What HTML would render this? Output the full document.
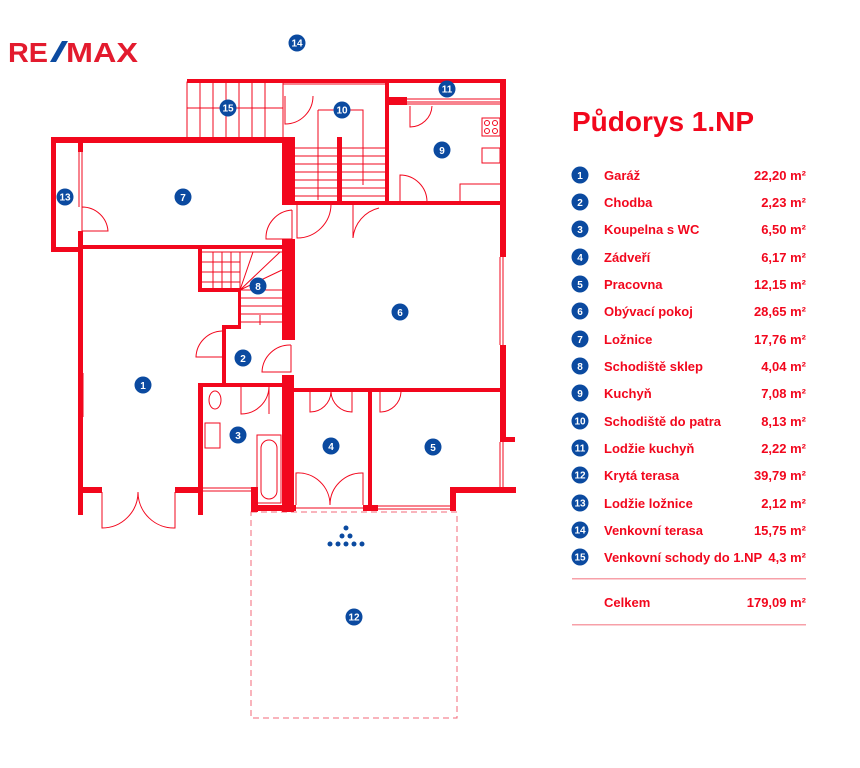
<!DOCTYPE html>
<html><head><meta charset="utf-8"><style>
html,body{margin:0;padding:0;background:#fff;}
svg{display:block;font-family:"Liberation Sans",sans-serif;}
.w{fill:#f2071d;}
.t{stroke:#f2071d;stroke-width:1;fill:none;}
.n circle{fill:#0b4aa0;}
.n text{fill:#fff;font-size:10px;font-weight:bold;text-anchor:middle;}
.lg text{fill:#f2071d;font-size:13px;font-weight:bold;}
.lg text.v{text-anchor:end;}
</style></head><body>
<svg width="860" height="768" viewBox="0 0 860 768" xmlns="http://www.w3.org/2000/svg">
<!-- logo -->
<text x="8" y="62" font-size="28" font-weight="bold" fill="#e31b2e" textLength="40" lengthAdjust="spacingAndGlyphs">RE</text>
<polygon points="50,62 56,62 68,41 62,41" fill="#0b4aa0"/>
<text x="66" y="62" font-size="28" font-weight="bold" fill="#e31b2e" textLength="72" lengthAdjust="spacingAndGlyphs">MAX</text>

<!-- thin drawing -->
<g class="t">
 <rect x="187" y="82" width="96" height="56"/>
 <line x1="187" y1="108" x2="283" y2="108"/>
 <path d="M200 82V138M213 82V138M226 82V138M239 82V138M252 82V138M265 82V138"/>
 <line x1="240" y1="108" x2="256" y2="108"/>
 <rect x="283" y="84" width="105" height="120"/>
 <path d="M285 96V124 A28 28 0 0 0 313 96"/>
 <path d="M318 110H363V185"/>
 <line x1="318" y1="110" x2="318" y2="200"/>
 <path d="M295 148H339M295 156H339M295 164H339M295 172H339M295 180H339M295 188H339M295 196H339"/>
 <path d="M342 148H386M342 156H386M342 164H386M342 172H386M342 180H386M342 188H386M342 196H386"/>
 <path d="M297 204V238 A34 34 0 0 0 331 204 M353 204V238 A34 34 0 0 1 379 208"/>
 <path d="M407 99H503M407 102H503M407 104H503"/>
 <path d="M410 106V127 A22 22 0 0 0 432 106"/>
 <rect x="482" y="118" width="18" height="18"/>
 <circle cx="487" cy="123" r="2.5"/><circle cx="495" cy="123" r="2.5"/><circle cx="487" cy="131" r="2.5"/><circle cx="495" cy="131" r="2.5"/>
 <rect x="482" y="148" width="18" height="15"/>
 <path d="M460 202V184H500"/>
 <path d="M400 202V175 A27 27 0 0 1 427 202"/>
 <path d="M79 152V207M82 152V207"/>
 <path d="M82 207V231H108 A26 26 0 0 0 82 207"/>
 <path d="M292 210V239 M292 210 A28 28 0 0 0 266 239 H292"/>
 <path d="M500 257V345M503 257V345"/>
 <path d="M500 442V487M503 442V487"/>
 <path d="M202 252H282M202 262H240M202 272H240M202 282H240"/>
 <path d="M213 252V290M222 252V290M231 252V290M240 252V290"/>
 <path d="M240 290 L253 252 M240 290 L280 252 M240 290 L282 270 M240 290 L282 290"/>
 <path d="M241 298H282M241 306H282M241 314H282M241 322H282"/>
 <line x1="260" y1="315" x2="260" y2="325"/>
 <path d="M222 357H196 A27 27 0 0 1 222 331"/>
 <path d="M291 345V372H262 A28 28 0 0 1 291 345"/>
 <path d="M80 373V417M83 373V417"/>
 <ellipse cx="215" cy="400" rx="6" ry="9"/>
 <rect x="205" y="423" width="15" height="25"/>
 <path d="M241 387V414 A28 28 0 0 0 269 387 M269 387V414"/>
 <rect x="257" y="435" width="24" height="68"/>
 <rect x="261" y="440" width="16" height="59" rx="8"/>
 <path d="M203 488H251M203 491H251"/>
 <path d="M102 492V528 A36 36 0 0 0 138 492 M175 492V528 A36 36 0 0 1 138 492"/>
 <path d="M310 392V412 A21 21 0 0 0 331 392 M352 392V412 A21 21 0 0 1 331 392"/>
 <path d="M296 505V473 A32 32 0 0 1 330 505 M363 505V473 A32 32 0 0 0 330 505"/>
 <path d="M296 508H363"/>
 <path d="M380 392V412 A21 21 0 0 0 401 392"/>
 <path d="M378 506H450M378 509H450"/>
 <rect x="251" y="512" width="206" height="206" stroke-dasharray="6,4" stroke="#f36a78"/>
</g>

<g class="w">
 <rect x="187" y="79" width="318" height="4"/>
 <rect x="500" y="79" width="6" height="178"/>
 <rect x="385" y="83" width="4" height="122"/>
 <rect x="385" y="97" width="22" height="8"/>
 <rect x="51" y="137" width="242" height="6"/>
 <rect x="51" y="137" width="5" height="115"/>
 <rect x="51" y="247" width="32" height="5"/>
 <rect x="78" y="137" width="5" height="15"/>
 <rect x="78" y="231" width="5" height="284"/>
 <rect x="78" y="245" width="215" height="4"/>
 <rect x="282" y="137" width="13" height="68"/>
 <rect x="337" y="137" width="5" height="68"/>
 <rect x="282" y="201" width="4" height="4"/>
 <rect x="293" y="201" width="210" height="4"/>
 <rect x="282" y="239" width="13" height="101"/>
 <rect x="198" y="248" width="4" height="44"/>
 <rect x="198" y="288" width="42" height="4"/>
 <rect x="238" y="288" width="3" height="39"/>
 <rect x="222" y="325" width="19" height="4"/>
 <rect x="222" y="325" width="4" height="62"/>
 <rect x="282" y="375" width="12" height="137"/>
 <rect x="198" y="383" width="96" height="4"/>
 <rect x="198" y="383" width="5" height="132"/>
 <rect x="78" y="487" width="24" height="6"/>
 <rect x="175" y="487" width="28" height="6"/>
 <rect x="251" y="487" width="7" height="25"/>
 <rect x="251" y="505" width="44" height="6"/>
 <rect x="293" y="388" width="212" height="4"/>
 <rect x="368" y="388" width="4" height="122"/>
 <rect x="293" y="505" width="3" height="6"/>
 <rect x="363" y="505" width="15" height="6"/>
 <rect x="450" y="487" width="6" height="24"/>
 <rect x="450" y="487" width="66" height="6"/>
 <rect x="500" y="345" width="6" height="97"/>
 <rect x="500" y="437" width="15" height="5"/>
</g>

<g class="n">
 <circle cx="297" cy="43" r="8.5"/><text x="297" y="46.5">14</text>
 <circle cx="228" cy="108" r="8.5"/><text x="228" y="111.5">15</text>
 <circle cx="342" cy="110" r="8.5"/><text x="342" y="113.5">10</text>
 <circle cx="447" cy="89" r="8.5"/><text x="447" y="92.5">11</text>
 <circle cx="442" cy="150" r="8.5"/><text x="442" y="154" font-size="12">9</text>
 <circle cx="65" cy="197" r="8.5"/><text x="65" y="200.5">13</text>
 <circle cx="183" cy="197" r="8.5"/><text x="183" y="201" font-size="12">7</text>
 <circle cx="258" cy="286" r="8.5"/><text x="258" y="290" font-size="12">8</text>
 <circle cx="400" cy="312" r="8.5"/><text x="400" y="316" font-size="12">6</text>
 <circle cx="143" cy="385" r="8.5"/><text x="143" y="389" font-size="12">1</text>
 <circle cx="243" cy="358" r="8.5"/><text x="243" y="362" font-size="12">2</text>
 <circle cx="238" cy="435" r="8.5"/><text x="238" y="439" font-size="12">3</text>
 <circle cx="331" cy="446" r="8.5"/><text x="331" y="450" font-size="12">4</text>
 <circle cx="433" cy="447" r="8.5"/><text x="433" y="451" font-size="12">5</text>
 <circle cx="354" cy="617" r="8.5"/><text x="354" y="620.5">12</text>
</g>
<g fill="#0b4aa0">
 <circle cx="346" cy="528" r="2.5"/>
 <circle cx="342" cy="536" r="2.5"/><circle cx="350" cy="536" r="2.5"/>
 <circle cx="330" cy="544" r="2.5"/><circle cx="338" cy="544" r="2.5"/><circle cx="346" cy="544" r="2.5"/><circle cx="354" cy="544" r="2.5"/><circle cx="362" cy="544" r="2.5"/>
</g>

<text x="572" y="131" font-size="28" font-weight="bold" fill="#f2071d">Půdorys 1.NP</text>
<g class="n">
 <circle cx="580" cy="175" r="8.5"/><text x="580" y="179" font-size="12">1</text>
 <circle cx="580" cy="202" r="8.5"/><text x="580" y="206" font-size="12">2</text>
 <circle cx="580" cy="229" r="8.5"/><text x="580" y="233" font-size="12">3</text>
 <circle cx="580" cy="257" r="8.5"/><text x="580" y="261" font-size="12">4</text>
 <circle cx="580" cy="284" r="8.5"/><text x="580" y="288" font-size="12">5</text>
 <circle cx="580" cy="311" r="8.5"/><text x="580" y="315" font-size="12">6</text>
 <circle cx="580" cy="339" r="8.5"/><text x="580" y="343" font-size="12">7</text>
 <circle cx="580" cy="366" r="8.5"/><text x="580" y="370" font-size="12">8</text>
 <circle cx="580" cy="393" r="8.5"/><text x="580" y="397" font-size="12">9</text>
 <circle cx="580" cy="421" r="8.5"/><text x="580" y="424.5">10</text>
 <circle cx="580" cy="448" r="8.5"/><text x="580" y="451.5">11</text>
 <circle cx="580" cy="475" r="8.5"/><text x="580" y="478.5">12</text>
 <circle cx="580" cy="503" r="8.5"/><text x="580" y="506.5">13</text>
 <circle cx="580" cy="530" r="8.5"/><text x="580" y="533.5">14</text>
 <circle cx="580" cy="557" r="8.5"/><text x="580" y="560.5">15</text>
</g>
<g class="lg">
 <text x="604" y="180">Garáž</text><text class="v" x="806" y="180">22,20 m²</text>
 <text x="604" y="207">Chodba</text><text class="v" x="806" y="207">2,23 m²</text>
 <text x="604" y="234">Koupelna s WC</text><text class="v" x="806" y="234">6,50 m²</text>
 <text x="604" y="262">Zádveří</text><text class="v" x="806" y="262">6,17 m²</text>
 <text x="604" y="289">Pracovna</text><text class="v" x="806" y="289">12,15 m²</text>
 <text x="604" y="316">Obývací pokoj</text><text class="v" x="806" y="316">28,65 m²</text>
 <text x="604" y="344">Ložnice</text><text class="v" x="806" y="344">17,76 m²</text>
 <text x="604" y="371">Schodiště sklep</text><text class="v" x="806" y="371">4,04 m²</text>
 <text x="604" y="398">Kuchyň</text><text class="v" x="806" y="398">7,08 m²</text>
 <text x="604" y="426">Schodiště do patra</text><text class="v" x="806" y="426">8,13 m²</text>
 <text x="604" y="453">Lodžie kuchyň</text><text class="v" x="806" y="453">2,22 m²</text>
 <text x="604" y="480">Krytá terasa</text><text class="v" x="806" y="480">39,79 m²</text>
 <text x="604" y="508">Lodžie ložnice</text><text class="v" x="806" y="508">2,12 m²</text>
 <text x="604" y="535">Venkovní terasa</text><text class="v" x="806" y="535">15,75 m²</text>
 <text x="604" y="562">Venkovní schody do 1.NP</text><text class="v" x="806" y="562">4,3 m²</text>
 <text x="604" y="607">Celkem</text><text class="v" x="806" y="607">179,09 m²</text>
</g>
<rect x="572" y="578" width="234" height="1.5" fill="#f7a0a8"/>
<rect x="572" y="624" width="234" height="1.5" fill="#f7a0a8"/>
</svg>
</body></html>
